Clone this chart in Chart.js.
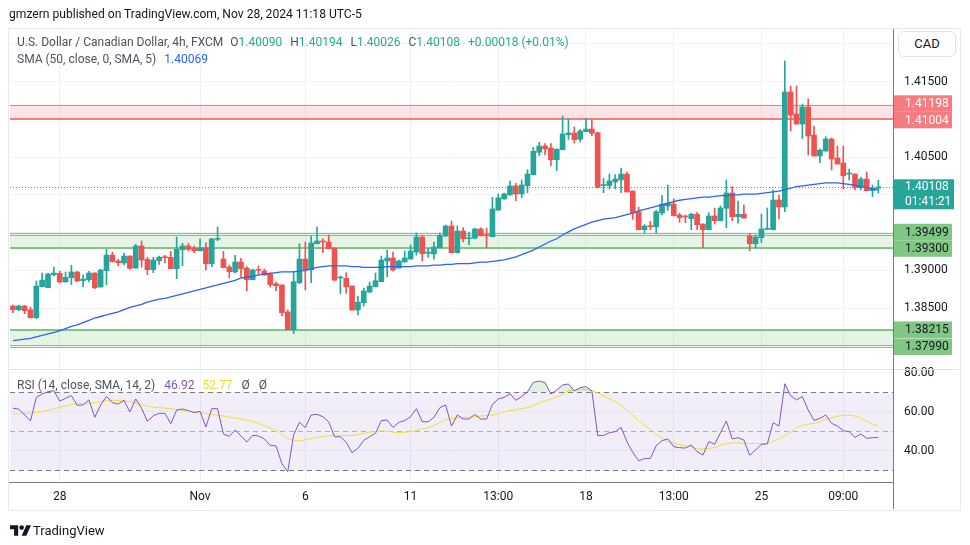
<!DOCTYPE html>
<html><head><meta charset="utf-8">
<script src="https://cdn.jsdelivr.net/npm/chart.js@4.4.1/dist/chart.umd.min.js"></script>
<style>
html,body{margin:0;padding:0;background:#fff;}
body{width:970px;height:545px;position:relative;overflow:hidden;font-family:Roboto,"Liberation Sans",sans-serif;color:#131722;}
canvas{position:absolute;left:0;top:0;}
.abs{position:absolute;white-space:nowrap;}
.lg{font-size:12px;color:#4c525e;line-height:16px;}
.g{color:#22ab94;}
.ln{position:absolute;}
</style></head><body>
<canvas id="main" width="970" height="545"></canvas>
<canvas id="rsi" width="970" height="545"></canvas>

<div class="ln" style="left:8px;top:28px;width:951px;height:481px;border:1px solid #e6e9f0;"></div>
<div class="ln" style="left:9px;top:369px;width:950px;height:1px;background:#e0e3eb;"></div>
<div class="ln" style="left:9px;top:482px;width:885px;height:1px;background:#787b86;"></div>
<div class="ln" style="left:893px;top:29px;width:1px;height:480px;background:#787b86;"></div>

<div class="abs" style="left:9px;top:7px;font-size:12.1px;color:#131722;">gmzern published on TradingView.com, Nov 28, 2024 11:18 UTC-5</div>
<div class="abs lg" id="leg1" style="left:17px;top:34px;"></div>
<div class="abs lg" id="leg2" style="left:17px;top:51px;"></div>
<div class="abs lg" id="leg3" style="left:17px;top:377px;"></div>
<div class="abs" style="left:898px;top:31px;width:56px;height:24px;border:1px solid #e0e3eb;border-radius:6px;background:#fff;font-size:13px;line-height:24px;text-align:center;color:#131722;">CAD</div>
<div class="abs" style="left:10px;top:520px;">
<svg width="21" height="13" viewBox="0 0 36 22" style="vertical-align:middle"><path d="M14 20H7V9H0V2h14z" fill="#131722"/><circle cx="20" cy="6" r="4" fill="#131722"/><path d="M28 2h8l-8 18h-8z" fill="#131722"/></svg><span style="font-size:13px;color:#131722;vertical-align:middle;margin-left:2px;">TradingView</span></div>

<script>
// ---------- DATA ----------
const opens = [1.38529,1.38480,1.38529,1.38480,1.38374,1.38785,1.38772,1.38943,1.38962,1.38847,
1.38904,1.38979,1.38864,1.38877,1.38966,1.38781,1.38997,1.39204,1.39125,1.39099,
1.39191,1.39032,1.39324,1.39147,1.39010,1.39129,1.39174,1.39174,1.39023,1.39274,
1.39324,1.39297,1.39261,1.39301,1.39089,1.39412,1.39151,1.39046,1.38979,1.39112,
1.39032,1.38877,1.39015,1.38992,1.38953,1.38824,1.38807,1.38450,1.38215,1.38838,
1.39151,1.39010,1.39354,1.39386,1.39377,1.39297,1.38900,1.38896,1.38794,1.38476,
1.38573,1.38714,1.38785,1.38851,1.39125,1.39165,1.39032,1.39112,1.39151,1.39244,
1.39443,1.39227,1.39218,1.39301,1.39456,1.39589,1.39235,1.39522,1.39420,1.39426,
1.39549,1.39474,1.39447,1.39800,1.39946,1.40000,1.40119,1.40013,1.40123,1.40268,
1.40565,1.40648,1.40622,1.40467,1.40599,1.40798,1.40820,1.40737,1.40838,1.40873,
1.40824,1.40125,1.40123,1.40172,1.40198,1.40277,1.40052,1.39778,1.39540,1.39585,
1.39580,1.39761,1.39854,1.39880,1.39734,1.39712,1.39685,1.39744,1.39615,1.39540,
1.39721,1.39659,1.39823,1.40026,1.39712,1.39744,1.39456,1.39354,1.39434,1.39545,
1.39540,1.39933,1.39840,1.41364,1.41072,1.40940,1.41165,1.40794,1.40516,1.40582,
1.40741,1.40489,1.40423,1.40277,1.40277,1.40096,1.40211,1.40056,1.40090];
const highs = [1.38542,1.38542,1.38538,1.38516,1.38860,1.38966,1.38966,1.39045,1.38992,1.38979,
1.39068,1.38988,1.38943,1.38988,1.38970,1.39015,1.39280,1.39244,1.39147,1.39227,
1.39195,1.39346,1.39390,1.39174,1.39174,1.39191,1.39200,1.39253,1.39443,1.39359,
1.39359,1.39324,1.39417,1.39367,1.39426,1.39575,1.39253,1.39072,1.39200,1.39161,
1.39050,1.39019,1.39059,1.39019,1.38970,1.38847,1.38810,1.38476,1.38984,1.39354,
1.39377,1.39456,1.39575,1.39420,1.39470,1.39300,1.38926,1.38970,1.38797,1.38661,
1.38767,1.38847,1.38966,1.39191,1.39271,1.39244,1.39138,1.39257,1.39337,1.39496,
1.39470,1.39293,1.39377,1.39496,1.39602,1.39655,1.39589,1.39566,1.39509,1.39562,
1.39566,1.39562,1.39969,1.40013,1.40026,1.40185,1.40154,1.40198,1.40334,1.40631,
1.40697,1.40679,1.40679,1.40612,1.41046,1.41006,1.40900,1.40870,1.41015,1.40993,
1.40834,1.40220,1.40277,1.40268,1.40357,1.40304,1.40055,1.39837,1.39606,1.39651,
1.39797,1.39990,1.40132,1.39950,1.39757,1.39734,1.39757,1.39765,1.39618,1.39765,
1.39827,1.39853,1.40198,1.40109,1.39919,1.39866,1.39492,1.39470,1.39747,1.39827,
1.40065,1.39999,1.41774,1.41443,1.41443,1.41205,1.41271,1.40913,1.40608,1.40771,
1.40754,1.40648,1.40648,1.40343,1.40280,1.40237,1.40304,1.40132,1.40194];
const lows = [1.38440,1.38469,1.38427,1.38370,1.38361,1.38781,1.38767,1.38929,1.38834,1.38845,
1.38811,1.38851,1.38781,1.38847,1.38759,1.38777,1.38811,1.39112,1.39063,1.39072,
1.39015,1.39028,1.39045,1.38943,1.38970,1.39081,1.39099,1.39020,1.38891,1.39063,
1.39261,1.39235,1.39258,1.39006,1.39050,1.39394,1.39035,1.38904,1.38966,1.38917,
1.38732,1.38875,1.38953,1.38938,1.38781,1.38732,1.38397,1.38212,1.38162,1.38824,
1.38741,1.38838,1.39350,1.39235,1.39285,1.38860,1.38692,1.38697,1.38473,1.38410,
1.38529,1.38705,1.38782,1.38848,1.38917,1.38992,1.39030,1.39110,1.39148,1.39204,
1.39125,1.39174,1.39151,1.39297,1.39452,1.39232,1.39232,1.39377,1.39341,1.39417,
1.39456,1.39301,1.39444,1.39797,1.39943,1.39997,1.39924,1.39963,1.40030,1.40265,
1.40520,1.40533,1.40387,1.40321,1.40596,1.40737,1.40688,1.40701,1.40835,1.40785,
1.40092,1.40030,1.40079,1.40079,1.40030,1.40036,1.39678,1.39537,1.39496,1.39540,
1.39496,1.39734,1.39800,1.39722,1.39638,1.39633,1.39540,1.39540,1.39301,1.39537,
1.39615,1.39656,1.39566,1.39659,1.39625,1.39691,1.39261,1.39297,1.39368,1.39542,
1.39537,1.39681,1.39778,1.40847,1.40937,1.40745,1.40529,1.40513,1.40423,1.40579,
1.40330,1.40407,1.40079,1.40198,1.40065,1.40065,1.40053,1.39979,1.40026];
const closes = [1.38480,1.38529,1.38467,1.38374,1.38794,1.38873,1.38953,1.38966,1.38847,1.38909,
1.38979,1.38860,1.38886,1.38966,1.38772,1.39006,1.39204,1.39116,1.39103,1.39191,
1.39028,1.39324,1.39138,1.39010,1.39138,1.39174,1.39169,1.39023,1.39280,1.39324,
1.39280,1.39261,1.39297,1.39089,1.39417,1.39420,1.39037,1.38984,1.39112,1.39023,
1.38877,1.39006,1.39002,1.38940,1.38811,1.38798,1.38440,1.38215,1.38851,1.39151,
1.39006,1.39364,1.39390,1.39377,1.39288,1.38873,1.38909,1.38781,1.38476,1.38582,
1.38728,1.38794,1.38864,1.39138,1.39165,1.39006,1.39125,1.39165,1.39257,1.39443,
1.39222,1.39244,1.39310,1.39465,1.39589,1.39235,1.39522,1.39420,1.39434,1.39549,
1.39460,1.39460,1.39814,1.39963,1.40013,1.40119,1.40013,1.40132,1.40277,1.40578,
1.40648,1.40609,1.40467,1.40604,1.40807,1.40820,1.40732,1.40847,1.40873,1.40816,
1.40101,1.40129,1.40185,1.40211,1.40277,1.40039,1.39761,1.39540,1.39589,1.39580,
1.39778,1.39880,1.39889,1.39725,1.39699,1.39708,1.39744,1.39606,1.39540,1.39721,
1.39659,1.39827,1.40026,1.39712,1.39744,1.39694,1.39354,1.39443,1.39549,1.39553,
1.39933,1.39840,1.41364,1.41059,1.40940,1.41165,1.40781,1.40516,1.40595,1.40741,
1.40476,1.40410,1.40255,1.40280,1.40096,1.40211,1.40056,1.40090,1.40108];
const sma50 = [1.3807,1.3808,1.3809,1.3810,1.3812,1.3814,1.3816,1.3818,1.3820,1.3823,
1.3826,1.3828,1.3831,1.3834,1.3837,1.3839,1.3841,1.3843,1.3845,1.3848,
1.3851,1.3853,1.3855,1.3858,1.3860,1.3862,1.3863,1.3865,1.3867,1.3869,
1.3871,1.3873,1.3875,1.3877,1.3879,1.3881,1.3883,1.3885,1.3887,1.3890,
1.3891,1.3892,1.3894,1.3895,1.3896,1.3897,1.3898,1.3898,1.3898,1.3899,
1.3900,1.3902,1.3904,1.3905,1.3906,1.3906,1.3906,1.3906,1.3905,1.3905,
1.3904,1.3904,1.3904,1.3904,1.3905,1.3905,1.3905,1.3905,1.3905,1.3906,
1.3906,1.3906,1.3907,1.3907,1.3908,1.3908,1.3909,1.3909,1.3909,1.3910,
1.3911,1.3911,1.3912,1.3913,1.3914,1.3916,1.3918,1.3921,1.3924,1.3927,
1.3931,1.3935,1.3939,1.3942,1.3947,1.3951,1.3955,1.3958,1.3961,1.3964,
1.3966,1.3968,1.3969,1.3970,1.3972,1.3974,1.3976,1.3979,1.3981,1.3983,
1.3985,1.3987,1.3989,1.3991,1.3993,1.3994,1.3995,1.3996,1.3997,1.3997,
1.3998,1.3999,1.3999,1.4000,1.4000,1.4001,1.4001,1.4001,1.4002,1.4003,
1.4004,1.4005,1.4007,1.4009,1.4011,1.4012,1.4013,1.4014,1.4015,1.4016,
1.4016,1.4016,1.4015,1.4014,1.4013,1.4011,1.4010,1.4008,1.40069];
const rsi = [61.8,61.4,58.4,55.3,67.4,69.1,70.3,70.8,65.5,66.9,
68.3,63.3,63.5,66.1,57.2,63.5,67.9,64.7,64.0,65.9,
59.9,66.6,61.8,55.1,58.0,59.2,59.2,53.9,60.9,61.4,
60.6,59.6,60.2,52.2,61.6,61.6,48.6,47.4,50.7,47.6,
44.5,47.9,47.6,46.1,42.8,42.5,33.4,29.3,48.1,54.6,
51.9,58.4,58.7,57.5,54.9,47.2,47.2,44.3,39.0,41.3,
45.4,47.2,49.0,55.5,55.8,52.0,54.6,55.5,57.5,61.6,
54.9,54.9,57.2,62.1,63.5,52.7,58.4,56.3,56.3,58.7,
56.3,56.3,63.8,66.6,67.4,69.3,65.9,67.8,70.3,75.1,
75.8,74.9,69.1,71.2,73.7,74.3,70.7,72.4,72.9,70.8,
47.8,47.8,49.3,49.8,52.0,44.7,39.2,34.9,36.0,36.1,
42.6,45.2,46.1,42.1,41.6,41.4,43.0,39.6,37.8,44.7,
43.3,49.3,55.3,46.1,46.7,45.5,37.7,40.4,43.3,43.5,
54.4,52.7,74.4,68.3,66.1,67.8,60.9,55.6,56.6,58.4,
54.1,52.7,50.3,49.8,46.9,48.6,46.4,46.7,46.92];
const rsiMa = [58.9,59.0,59.1,59.3,59.6,60.1,60.8,61.6,62.3,63.0,
63.7,64.2,64.3,64.4,64.7,65.2,65.8,65.9,65.8,65.6,
65.2,64.4,63.6,62.9,62.4,62.1,61.9,61.6,61.2,60.8,
60.4,59.9,59.5,59.1,58.6,58.2,57.8,57.3,56.8,56.3,
55.7,55.1,54.2,52.9,51.8,50.7,48.5,46.2,45.4,45.0,
45.6,46.3,46.8,47.2,47.8,48.1,48.0,47.8,47.8,48.3,
49.0,49.6,49.9,50.2,50.0,49.6,49.3,49.5,49.8,50.5,
51.2,51.9,53.0,54.4,56.1,56.4,56.9,57.1,57.3,57.5,
57.8,58.1,58.4,59.0,59.9,60.6,61.1,61.6,62.1,63.2,
64.6,65.6,66.6,67.6,68.9,70.7,71.2,71.6,71.4,70.9,
69.7,68.2,66.7,65.2,63.3,61.0,58.3,55.5,53.2,51.0,
48.5,46.6,44.7,43.8,43.2,42.6,41.9,41.0,40.9,41.2,
41.7,42.9,43.6,44.1,44.1,43.9,43.8,43.7,43.7,43.8,
44.8,46.0,47.6,49.5,51.9,53.1,53.6,54.1,54.9,56.3,
56.9,57.7,58.2,58.3,57.8,56.9,55.2,53.8,52.77];
const tickIndex = [8,32,50,68,83,98,113,128,142];
const tickText = ['28','Nov','6','11','13:00','18','13:00','25','09:00'];
const zoneLevels = [[1.41198,1.41004],[1.39499,1.39300],[1.38215,1.37990]];
const rsiLevels = [70,50,30];
const countdown = '01:41:21';
const symbolTitle = 'U.S. Dollar / Canadian Dollar, 4h, FXCM';
const smaTitle = 'SMA (50, close, 0, SMA, 5)';
const rsiTitle = 'RSI (14, close, SMA, 14, 2)';

// ---------- BUILD ----------
const FONT = 'Roboto, "Liberation Sans", sans-serif';
Chart.defaults.font.family = FONT;
const UP = '#26a69a', DOWN = '#ef5350';
const nSlots = opens.length + 2;
const slots = Array.from({length:nSlots}, (_, i) => String(i));
const last = opens.length - 1;
const candleColors = closes.map((c, i) => c >= opens[i] ? UP : DOWN);
const bodies = opens.map((o, i) => [o, closes[i]]);
const wicks = lows.map((l, i) => [l, highs[i]]);
const tickLabel = i => { const k = tickIndex.indexOf(i); return k >= 0 ? tickText[k] : ''; };
const gridX = ctx => tickIndex.includes(ctx.index) ? '#eef1f6' : 'rgba(0,0,0,0)';

// legends
const fmt = v => v.toFixed(5);
const chg = closes[last] - closes[last-1];
const pct = chg / closes[last-1] * 100;
const sign = chg >= 0 ? '+' : '-';
const sp = (m) => '<span style="margin-left:' + m + 'px">';
document.getElementById('leg1').innerHTML = symbolTitle +
  sp(7) + 'O</span><span class="g">' + fmt(opens[last]) + '</span>' +
  sp(8) + 'H</span><span class="g">' + fmt(highs[last]) + '</span>' +
  sp(8) + 'L</span><span class="g">' + fmt(lows[last]) + '</span>' +
  sp(8) + 'C</span><span class="g">' + fmt(closes[last]) + '</span>' +
  '<span class="g" style="margin-left:8px">' + sign + Math.abs(chg).toFixed(5) + ' (' + sign + Math.abs(pct).toFixed(2) + '%)</span>';
document.getElementById('leg2').innerHTML = smaTitle + '<span style="margin-left:8px;color:#2962ff">' + fmt(sma50[last]) + '</span>';
document.getElementById('leg3').innerHTML = rsiTitle + '<span style="margin-left:9px;color:#7e57c2">' + rsi[last].toFixed(2) + '</span>' +
  '<span style="margin-left:8px;color:#f2d92c">' + rsiMa[last].toFixed(2) + '</span>' +
  sp(9) + 'Ø</span>' + sp(9) + 'Ø</span>';

const zoneLook = [
  {fill:'rgba(242,54,69,0.13)', line:'#f77c80', thick:'low', dbl:false, tag:'#f77c80', txt:'#ffffff'},
  {fill:'rgba(76,175,80,0.14)', line:'#81c784', thick:'low', dbl:true, tag:'#81c784', txt:'#131722'},
  {fill:'rgba(76,175,80,0.14)', line:'#81c784', thick:'high', dbl:true, tag:'#81c784', txt:'#131722'}
];

function hline(ctx, a, y, w, color, dash) {
  ctx.save();
  ctx.strokeStyle = color; ctx.lineWidth = w;
  if (dash) ctx.setLineDash(dash);
  const yy = w % 2 ? Math.round(y) + 0.5 : Math.round(y);
  ctx.beginPath(); ctx.moveTo(a.left, yy); ctx.lineTo(a.right, yy); ctx.stroke();
  ctx.restore();
}

const zonesPlugin = {
  id: 'zones',
  beforeDatasetsDraw(chart) {
    const {ctx, chartArea: a, scales: {y}} = chart;
    zoneLevels.forEach((lv, k) => {
      const L = zoneLook[k];
      const yHi = y.getPixelForValue(lv[0]), yLo = y.getPixelForValue(lv[1]);
      ctx.fillStyle = L.fill;
      ctx.fillRect(a.left, yHi, a.right - a.left, yLo - yHi);
      if (L.thick === 'low') {
        hline(ctx, a, yLo, 2, L.line);
        hline(ctx, a, yHi, 1, L.line);
        if (L.dbl) hline(ctx, a, yHi + 2, 1, L.line);
      } else {
        hline(ctx, a, yHi, 2, L.line);
        hline(ctx, a, yLo, 1, L.line);
        if (L.dbl) hline(ctx, a, yLo - 2, 1, L.line);
      }
    });
  },
  afterDatasetsDraw(chart) {
    const {ctx, chartArea: a, scales: {y}} = chart;
    hline(ctx, a, y.getPixelForValue(closes[last]), 1, UP, [1, 2]);
  },
  afterDraw(chart) {
    const {ctx, chartArea: a, scales: {y}} = chart;
    const H = 16.5, X = a.right + 1, W = 58;
    ctx.save();
    ctx.font = '12px ' + FONT;
    ctx.textBaseline = 'middle';
    ctx.textAlign = 'left';
    zoneLevels.forEach((lv, k) => {
      const L = zoneLook[k];
      let y1 = y.getPixelForValue(lv[0]), y2 = y.getPixelForValue(lv[1]);
      if (y2 - y1 < H) { const m = (y1 + y2) / 2; y1 = m - H / 2; y2 = m + H / 2; }
      [[y1, lv[0]], [y2, lv[1]]].forEach(([yc, v]) => {
        ctx.fillStyle = L.tag;
        ctx.fillRect(X, yc - H / 2, W, H);
        ctx.fillStyle = L.txt;
        ctx.fillText(v.toFixed(5), X + 11, yc + 0.5);
      });
    });
    const yc = y.getPixelForValue(closes[last]);
    ctx.fillStyle = UP;
    ctx.fillRect(X, yc - 7.5, 60, 30);
    ctx.fillStyle = '#ffffff';
    ctx.fillText(closes[last].toFixed(5), X + 11, yc + 0.5);
    ctx.fillText(countdown, X + 11, yc + 15.5);
    ctx.restore();
  }
};

const rsiPlugin = {
  id: 'rsiBands',
  beforeDatasetsDraw(chart) {
    const {ctx, chartArea: a, scales: {y}} = chart;
    const yT = y.getPixelForValue(rsiLevels[0]), yM = y.getPixelForValue(rsiLevels[1]), yB = y.getPixelForValue(rsiLevels[2]);
    ctx.fillStyle = 'rgba(126,87,194,0.1)';
    ctx.fillRect(a.left, yT, a.right - a.left, yB - yT);
    hline(ctx, a, yT, 1, '#787b86', [5, 4]);
    hline(ctx, a, yB, 1, '#787b86', [5, 4]);
    hline(ctx, a, yM, 1, 'rgba(120,123,134,0.55)', [5, 4]);
  }
};

const xScale = (showTicks) => ({
  type: 'category', offset: true,
  grid: {offset: false, color: gridX, drawTicks: false, lineWidth: 1},
  border: {display: false},
  ticks: {display: showTicks, autoSkip: false, maxRotation: 0, minRotation: 0, padding: 8,
          color: '#131722', font: {size: 12}, callback: (v, i) => tickLabel(i)},
  afterFit: s => { s.height = showTicks ? 28 : 0; }
});

new Chart(document.getElementById('main'), {
  type: 'bar',
  data: {
    labels: slots,
    datasets: [
      {type: 'line', data: sma50, borderColor: '#2962ff', borderWidth: 1.3, pointRadius: 0, order: 0},
      {data: bodies, backgroundColor: candleColors, barThickness: 5, minBarLength: 1, grouped: false, order: 1},
      {data: wicks, backgroundColor: candleColors, barThickness: 1, grouped: false, order: 2}
    ]
  },
  options: {
    responsive: false, animation: false, devicePixelRatio: 1, events: [],
    layout: {autoPadding: false, padding: {left: 10, top: 30, right: 10, bottom: 177}},
    plugins: {legend: {display: false}, tooltip: {enabled: false}},
    scales: {
      x: xScale(false),
      y: {
        position: 'right', min: 1.377079, max: 1.421848,
        grid: {color: '#f0f3fa', drawTicks: false},
        border: {display: false},
        ticks: {stepSize: 0.005, includeBounds: false, padding: 11, color: '#131722', font: {size: 12},
                callback: v => Number(v).toFixed(5)},
        afterFit: s => { s.width = 67; }
      }
    }
  },
  plugins: [zonesPlugin]
});

new Chart(document.getElementById('rsi'), {
  type: 'line',
  data: {
    labels: slots,
    datasets: [
      {data: rsiMa, borderColor: '#f5dd2f', borderWidth: 1, pointRadius: 0, fill: false, order: 2},
      {data: rsi, borderColor: '#7e57c2', borderWidth: 1, pointRadius: 0, order: 1,
       fill: {target: {value: rsiLevels[0]}, above: 'rgba(76,175,80,0.18)', below: 'rgba(0,0,0,0)'}},
      {data: rsi, borderColor: 'rgba(0,0,0,0)', borderWidth: 0, pointRadius: 0, order: 3,
       fill: {target: {value: rsiLevels[2]}, above: 'rgba(0,0,0,0)', below: 'rgba(242,54,69,0.15)'}}
    ]
  },
  options: {
    responsive: false, animation: false, devicePixelRatio: 1, events: [],
    layout: {autoPadding: false, padding: {left: 10, top: 370, right: 10, bottom: 35}},
    plugins: {legend: {display: false}, tooltip: {enabled: false}},
    scales: {
      x: xScale(true),
      y: {
        position: 'right', min: 24.0, max: 81.44,
        grid: {color: '#f0f3fa', drawTicks: false},
        border: {display: false},
        ticks: {stepSize: 20, includeBounds: false, padding: 11, color: '#131722', font: {size: 12},
                callback: v => Number(v).toFixed(2)},
        afterFit: s => { s.width = 67; }
      }
    }
  },
  plugins: [rsiPlugin]
});
</script>
</body></html>
